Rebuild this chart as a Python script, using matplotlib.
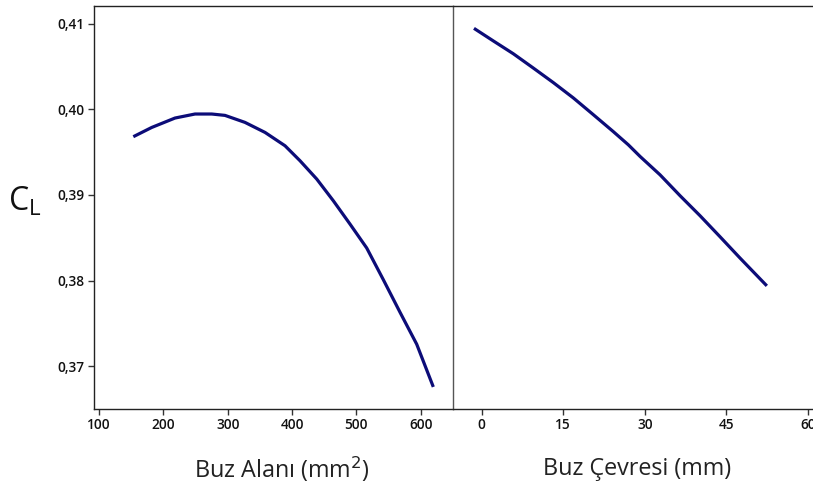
import matplotlib
matplotlib.use("Agg")
import matplotlib.pyplot as plt
from matplotlib.ticker import FuncFormatter

# Data
area_x = [153.3, 181.9, 218.1, 249.2, 275.2, 295.8, 326.9, 358.0, 389.1, 412.4,
          438.4, 464.2, 490.1, 516.1, 541.9, 567.8, 593.8, 619.6]
area_cl = [0.39681, 0.39789, 0.39899, 0.39946, 0.39946, 0.39930, 0.39848, 0.39731, 0.39575, 0.39400,
           0.39186, 0.38932, 0.38660, 0.38380, 0.38010, 0.37630, 0.37256, 0.36757]

perim_x = [-1.42, 2.14, 5.82, 9.50, 13.18, 16.86, 20.54, 24.22, 26.98,
           29.14, 32.82, 36.50, 40.18, 43.86, 47.54, 52.46]
perim_cl = [0.40947, 0.40800, 0.40650, 0.40483, 0.40313, 0.40134, 0.39938, 0.39740, 0.39586,
            0.39450, 0.39235, 0.38991, 0.38757, 0.38511, 0.38262, 0.37938]

y_ticks = [0.37, 0.38, 0.39, 0.40, 0.41]
area_ticks = [100, 200, 300, 400, 500, 600]
perim_ticks = [0, 15, 30, 45, 60]

W, H = 813, 491
fig = plt.figure(figsize=(W / 100, H / 100), dpi=100)
plt.rcParams['font.family'] = ['Open Sans', 'DejaVu Sans']

top, bottom = 5.5, 408.5
left1, mid, right2 = 93.5, 453.0, 835.0
ax1 = fig.add_axes([left1 / W, 1 - bottom / H, (mid - left1) / W, (bottom - top) / H])
ax2 = fig.add_axes([mid / W, 1 - bottom / H, (right2 - mid) / W, (bottom - top) / H])

line_color = '#0c0c78'
ax1.plot(area_x, area_cl, color=line_color, lw=2.3, solid_capstyle='butt', solid_joinstyle='round')
ax2.plot(perim_x, perim_cl, color=line_color, lw=2.3, solid_capstyle='butt', solid_joinstyle='round')

ylim = (0.36505, 0.41214)
for ax in (ax1, ax2):
    ax.set_ylim(*ylim)
    for s in ax.spines.values():
        s.set_linewidth(1.0)
        s.set_color('#222222')
    ax.tick_params(axis='both', direction='out', length=4.5, width=1, color='#333333',
                   labelsize=9.8, pad=2)

ax1.set_xlim(91.4, 650.2)
ax1.set_xticks(area_ticks)
ax1.set_yticks(y_ticks)
ax1.yaxis.set_major_formatter(FuncFormatter(lambda v, p: f"{v:.2f}".replace('.', ',')))
ax1.spines['right'].set_visible(False)

ax2.set_xlim(-5.28, 65)
ax2.set_xticks(perim_ticks)
ax2.set_yticks([])
ax2.spines['left'].set_color('#555555')

for ax in (ax1, ax2):
    for lab in ax.get_xticklabels() + ax.get_yticklabels():
        lab.set_fontweight('semibold')
        lab.set_color('#111111')

fig.text(282 / W, 1 - 469 / H, 'Buz Alanı (mm$^2$)', ha='center', va='center', fontsize=16.8, color='#222222')
fig.text(637 / W, 1 - 469 / H, 'Buz Çevresi (mm)', ha='center', va='center', fontsize=16.8, color='#222222')
fig.text(25 / W, 1 - 202 / H, 'C$_\\mathregular{L}$', ha='center', va='center', fontsize=23, color='#111111')

fig.savefig('out.png', dpi=100)
